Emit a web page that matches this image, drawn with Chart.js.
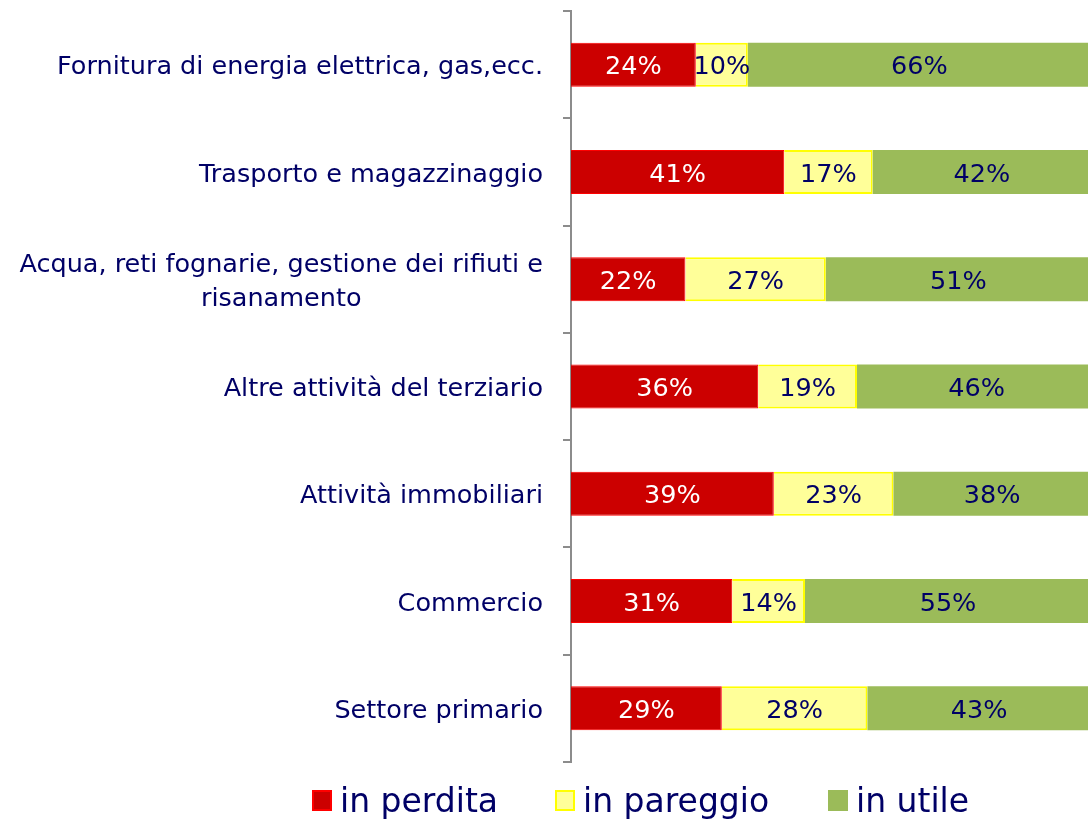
<!DOCTYPE html>
<html>
<head>
<meta charset="utf-8">
<script src="https://cdn.jsdelivr.net/npm/chart.js@4"></script>
<style>
  html, body { margin: 0; padding: 0; background: #fff; overflow: hidden; }
  #wrap { position: relative; width: 1100px; height: 819px; }
</style>
</head>
<body>
<div id="wrap"><canvas id="chart"></canvas></div>
<script>
// Categories, top to bottom
const categories = [
    'Fornitura di energia elettrica, gas,ecc.',
    'Trasporto e magazzinaggio',
    ['Acqua, reti fognarie, gestione dei rifiuti e', 'risanamento'],
    'Altre attività del terziario',
    'Attività immobiliari',
    'Commercio',
    'Settore primario'
];

const inPerdita  = [24, 41, 22, 36, 39, 31, 29];
const inPareggio = [10, 17, 27, 19, 23, 14, 28];
const inUtile    = [66, 42, 51, 46, 38, 55, 43];

const seriesNames = ['in perdita', 'in pareggio', 'in utile'];

const NAVY = '#000066';
const FONT = '"DejaVu Sans", Verdana, sans-serif';

// value labels drawn in the middle of each segment
const segmentLabels = {
    id: 'segmentLabels',
    afterDatasetsDraw(chart) {
        const ctx = chart.ctx;
        ctx.save();
        ctx.font = '25.5px ' + FONT;
        ctx.textAlign = 'center';
        ctx.textBaseline = 'middle';
        chart.data.datasets.forEach((ds, di) => {
            const meta = chart.getDatasetMeta(di);
            meta.data.forEach((bar, i) => {
                ctx.fillStyle = di === 0 ? '#ffffff' : NAVY;
                ctx.fillText(ds.data[i] + '%', (bar.x + bar.base) / 2, bar.y + 3);
            });
        });
        ctx.restore();
    }
};

// category labels: block right aligned, lines centred inside the block
const categoryLabels = {
    id: 'categoryLabels',
    afterDraw(chart) {
        const ctx = chart.ctx;
        const y = chart.scales.y;
        const right = chart.chartArea.left - 28;
        const lineH = 34;
        ctx.save();
        ctx.font = '25.5px ' + FONT;
        ctx.fillStyle = NAVY;
        ctx.textBaseline = 'middle';
        categories.forEach((lab, i) => {
            const cy = y.getPixelForValue(i) + 3;
            const lines = Array.isArray(lab) ? lab : [lab];
            const w = Math.max(...lines.map(l => ctx.measureText(l).width));
            ctx.textAlign = 'center';
            lines.forEach((l, k) => {
                const ly = cy + (k - (lines.length - 1) / 2) * lineH;
                ctx.fillText(l, right - w / 2, ly);
            });
        });
        ctx.restore();
    }
};

// legend under the plot
const bottomLegend = {
    id: 'bottomLegend',
    afterDraw(chart) {
        const ctx = chart.ctx;
        const starts = [312, 555, 828];
        ctx.save();
        ctx.font = '33px ' + FONT;
        ctx.textBaseline = 'alphabetic';
        ctx.textAlign = 'left';
        chart.data.datasets.forEach((ds, i) => {
            const x = starts[i];
            ctx.fillStyle = ds.backgroundColor;
            ctx.fillRect(x, 790, 20, 21);
            if (ds.borderWidth) {
                ctx.strokeStyle = ds.borderColor;
                ctx.lineWidth = 2;
                ctx.strokeRect(x + 1, 791, 18, 19);
            }
            ctx.fillStyle = NAVY;
            ctx.fillText(ds.label, x + 28, 812);
        });
        ctx.restore();
    }
};

new Chart(document.getElementById('chart'), {
    type: 'bar',
    data: {
        labels: categories,
        datasets: [
            { label: seriesNames[0], data: inPerdita, backgroundColor: '#cc0000', borderColor: '#ff0000', borderWidth: 1 },
            { label: seriesNames[1], data: inPareggio, backgroundColor: '#ffff99', borderColor: '#ffff00', borderWidth: 2 },
            { label: seriesNames[2], data: inUtile, backgroundColor: '#9bbb59', borderWidth: 0 }
        ]
    },
    options: {
        indexAxis: 'y',
        responsive: true,
        maintainAspectRatio: false,
        animation: false,
        layout: { padding: { top: 11, bottom: 57, left: 0, right: 9 } },
        categoryPercentage: 1,
        barPercentage: 0.41,
        scales: {
            x: { stacked: true, min: 0, max: 100, display: false },
            y: {
                stacked: true,
                ticks: { display: false },
                grid: { drawOnChartArea: false, drawTicks: true, tickLength: 8, color: '#8c8c8c', lineWidth: 2 },
                border: { color: '#8c8c8c', width: 2 },
                afterFit: s => { s.width = 571; }
            }
        },
        plugins: {
            legend: { display: false },
            tooltip: { enabled: false }
        }
    },
    plugins: [segmentLabels, categoryLabels, bottomLegend]
});
</script>
</body>
</html>
